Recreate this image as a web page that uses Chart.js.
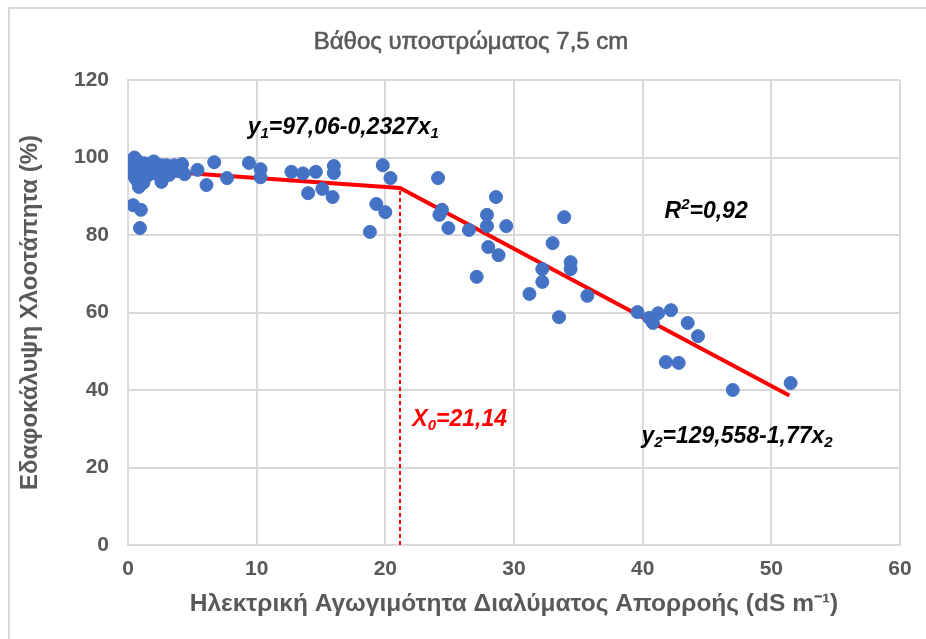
<!DOCTYPE html>
<html>
<head>
<meta charset="utf-8">
<script src="https://cdn.jsdelivr.net/npm/chart.js@4.4.1/dist/chart.umd.min.js"></script>
<style>
  html, body { margin: 0; padding: 0; background: #fff; }
  #wrap { width: 926px; height: 639px; position: relative; }
</style>
</head>
<body>
<div id="wrap"><canvas id="ecChart" width="926" height="639"></canvas></div>
<script>
// Electrical conductivity of runoff solution (dS m-1) vs turf cover (%)
const ecValues = [
  0.2, 0.3, 0.4, 0.5, 0.5, 0.6, 0.7, 0.7, 0.8, 0.9, 1.0, 1.0, 1.1, 1.2, 1.3, 1.5,
  1.6, 1.8, 2.0, 2.1, 2.3, 2.5, 2.6, 2.8, 3.0, 3.2, 3.4, 3.6, 3.9, 0.4, 0.6, 0.8, 1.2,
  0.85, 0.4, 1.0, 0.93, 2.6, 4.2, 4.4, 5.4, 6.1, 6.7, 7.7, 9.4, 10.3, 10.3,
  12.7, 13.6, 14.6, 16.0, 16.0, 14.0, 15.1, 15.9, 19.8, 20.4, 19.3, 20.0, 18.8,
  24.1, 24.4, 24.2, 24.9, 26.5, 27.9, 27.9, 28.6, 29.4, 28.0, 28.8, 27.1,
  33.9, 33.0, 34.4, 34.4, 32.2, 32.2, 31.2, 35.7, 33.5,
  39.6, 40.5, 40.8, 41.2, 42.2, 43.5, 44.3, 41.8, 42.8, 47.0, 51.5
];
const coverValues = [
  98, 97, 99, 96, 100, 98.5, 97, 95, 99, 96.5, 98, 94, 97.5, 96, 98.5, 97,
  95.5, 98, 99, 96, 97.5, 95, 98, 96.5, 98, 95.5, 97.5, 98, 96.5, 95.5, 94.5, 93.5, 93.5,
  92.4, 87.7, 86.5, 81.8, 93.7, 98.3, 95.7, 96.8, 92.9, 98.8, 94.7, 98.6, 97, 94.9,
  96.3, 95.9, 96.3, 97.8, 96, 90.8, 91.9, 89.8, 98, 94.7, 88, 85.9, 80.8,
  94.7, 86.5, 85.2, 81.8, 81.3, 85.2, 82.3, 89.8, 82.3, 76.9, 74.8, 69.2,
  84.6, 77.9, 73.0, 71.2, 71.2, 67.9, 64.8, 64.3, 58.8,
  60.1, 58.6, 57.3, 59.8, 60.6, 57.3, 53.9, 47.2, 47.0, 40.0, 41.8
];

// Segmented regression: y1 = 97.06 - 0.2327x up to X0, y2 = 129.558 - 1.77x after
const fitA1 = 97.06, fitB1 = 0.2327;
const fitA2 = 129.558, fitB2 = 1.77;
const breakX = 21.14;
const fitStartX = 0.3, fitEndX = 51.4;

const xTicks = [0, 10, 20, 30, 40, 50, 60];
const yTicks = [0, 20, 40, 60, 80, 100, 120];

const points = ecValues.map((x, i) => ({ x: x, y: coverValues[i] }));
const fitLine = [
  { x: fitStartX, y: fitA1 - fitB1 * fitStartX },
  { x: breakX, y: fitA1 - fitB1 * breakX },
  { x: fitEndX, y: fitA2 - fitB2 * fitEndX }
];
const breakLine = [
  { x: breakX, y: 0 },
  { x: breakX, y: fitA1 - fitB1 * breakX }
];

const GREY = '#595959';
const GRID = '#d9d9d9';
const FONT = '"Liberation Sans", Arial, sans-serif';

// text pieces: [text, subscript/superscript flag]
const notes = [
  { x: 9.3, y: 107.6, color: '#000', parts: [['y'], ['1', 'sub'], ['=97,06-0,2327x'], ['1', 'sub']] },
  { x: 41.7, y: 85.9, color: '#000', parts: [['R'], ['2', 'sup'], ['=0,92']] },
  { x: 22.1, y: 32.3, color: '#ff0000', parts: [['X'], ['0', 'sub'], ['=21,14']] },
  { x: 39.9, y: 27.9, color: '#000', parts: [['y'], ['2', 'sub'], ['=129,558-1,77x'], ['2', 'sub']] }
];

const extrasPlugin = {
  id: 'extras',
  beforeDraw(chart) {
    const c = chart.ctx;
    c.save();
    c.fillStyle = '#fff';
    c.fillRect(0, 0, chart.width, chart.height);
    c.strokeStyle = GRID;
    c.lineWidth = 2;
    c.strokeRect(9, 8, chart.width + 20, chart.height + 20);
    c.restore();
  },
  afterDraw(chart) {
    const c = chart.ctx;
    const xs = chart.scales.x, ys = chart.scales.y;
    c.save();
    // chart title, semi-bold look
    c.fillStyle = GREY;
    c.strokeStyle = GREY;
    c.lineWidth = 0.6;
    c.font = '24px ' + FONT;
    c.textAlign = 'center';
    c.textBaseline = 'middle';
    c.fillText('Βάθος υποστρώματος 7,5 cm', 471, 42);
    c.strokeText('Βάθος υποστρώματος 7,5 cm', 471, 42);

    c.textAlign = 'left';
    c.textBaseline = 'middle';
    notes.forEach(n => {
      let px = xs.getPixelForValue(n.x);
      const py = ys.getPixelForValue(n.y);
      c.fillStyle = n.color;
      n.parts.forEach(([t, kind]) => {
        if (kind) {
          c.font = 'italic bold 15px ' + FONT;
          c.fillText(t, px, py + (kind === 'sub' ? 6 : -7));
        } else {
          c.font = 'italic bold 23px ' + FONT;
          c.fillText(t, px, py);
        }
        px += c.measureText(t).width;
      });
    });
    c.restore();
  }
};

const ctx = document.getElementById('ecChart').getContext('2d');
new Chart(ctx, {
  type: 'scatter',
  data: {
    datasets: [
      {
        label: 'fit',
        type: 'line',
        data: fitLine,
        borderColor: '#ff0000',
        borderWidth: 4,
        pointRadius: 0,
        tension: 0,
        order: 2
      },
      {
        label: 'X0',
        type: 'line',
        data: breakLine,
        borderColor: '#ff0000',
        borderWidth: 2,
        borderDash: [4, 3],
        pointRadius: 0,
        order: 3
      },
      {
        label: 'Εδαφοκάλυψη',
        data: points,
        backgroundColor: '#4472c4',
        borderColor: '#4472c4',
        pointRadius: 6.5,
        order: 1
      }
    ]
  },
  options: {
    responsive: false,
    animation: false,
    devicePixelRatio: 1,
    layout: { padding: { left: 10, right: 26, top: 80, bottom: 0 } },
    plugins: {
      legend: { display: false },
      tooltip: { enabled: false }
    },
    scales: {
      x: {
        type: 'linear',
        min: 0,
        max: 60,
        afterBuildTicks: s => { s.ticks = xTicks.map(v => ({ value: v })); },
        afterFit: s => { s.height = 94; },
        grid: { color: GRID, lineWidth: 2, drawTicks: false },
        border: { color: GRID, width: 2 },
        ticks: {
          color: GREY,
          padding: 12,
          font: { family: FONT, size: 21, weight: 'bold' }
        },
        title: {
          display: true,
          text: 'Ηλεκτρική Αγωγιμότητα Διαλύματος Απορροής (dS m⁻¹)',
          color: GREY,
          padding: { top: 0, bottom: 20 },
          font: { family: FONT, size: 24.5, weight: 'bold' }
        }
      },
      y: {
        min: 0,
        max: 120,
        afterBuildTicks: s => { s.ticks = yTicks.map(v => ({ value: v })); },
        afterFit: s => { s.width = 118; },
        grid: { color: GRID, lineWidth: 2, drawTicks: false },
        border: { color: GRID, width: 2 },
        ticks: {
          color: GREY,
          padding: 19,
          font: { family: FONT, size: 21, weight: 'bold' }
        },
        title: {
          display: true,
          text: 'Εδαφοκάλυψη Χλοοτάπητα (%)',
          color: GREY,
          padding: { top: 6, bottom: 0 },
          font: { family: FONT, size: 24, weight: 'bold' }
        }
      }
    }
  },
  plugins: [extrasPlugin]
});
</script>
</body>
</html>
